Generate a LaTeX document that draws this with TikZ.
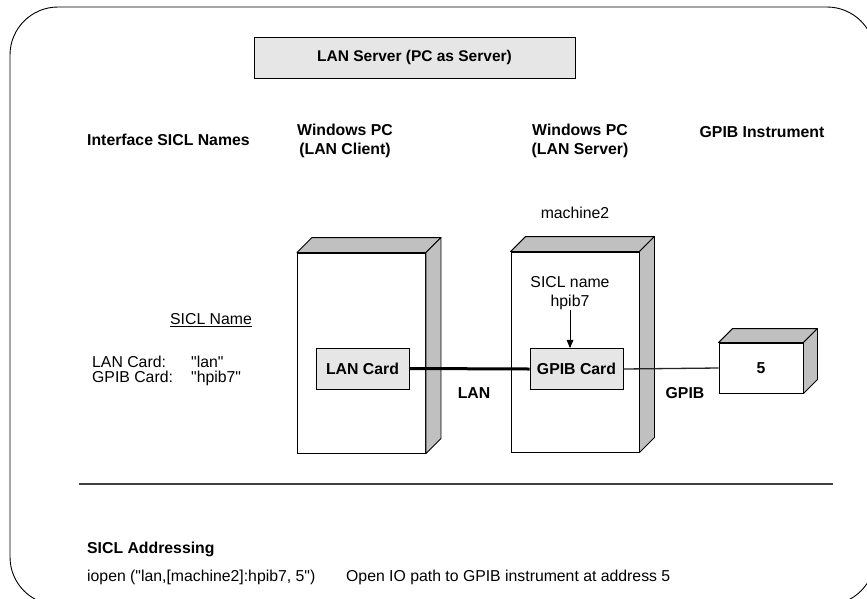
\documentclass[tikz,border=0pt]{standalone}
\usepackage{fontspec}
\setmainfont{Liberation Sans}
\usetikzlibrary{arrows,positioning}
\definecolor{sidegray}{RGB}{192,192,192}
\definecolor{cardgray}{RGB}{230,230,230}
\newcommand{\qt}{\textquotedbl}
\tikzstyle{txt}=[inner sep=0pt, align=center, font={\fontsize{15.8}{19}\selectfont}]
\tikzstyle{bold txt}=[txt, font={\fontsize{15.8}{19}\selectfont\bfseries}]
\tikzstyle{pc}=[draw, fill=white, line width=0.9pt, inner sep=0pt, minimum width=128pt, minimum height=200pt]
\tikzstyle{card}=[draw, fill=cardgray, line width=0.9pt, inner sep=0pt, minimum width=93pt, minimum height=41pt, font={\fontsize{15.8}{19}\selectfont\bfseries}]
\tikzstyle{side}=[draw, fill=sidegray, line width=0.9pt, line join=round]

\begin{document}
\begin{tikzpicture}[x=1pt, y=-1pt]
    \useasboundingbox (0,0) rectangle (867,598);
    % outer frame
    \draw[line width=0.9pt, rounded corners=48pt] (10,7) rectangle (875,605);

    % title and column headings
    \node[draw, fill=cardgray, line width=0.9pt, minimum width=321pt, minimum height=41pt, inner sep=0pt,
          font={\fontsize{15.5}{19}\selectfont\bfseries}] (title) at (414.5,57.5) {LAN Server (PC as Server)};
    \node[bold txt, anchor=west] (ifnames) at (87,140) {Interface SICL Names};
    \node[bold txt] (clienthdr) at (345,141) {Windows PC\\(LAN Client)};
    \node[bold txt] (serverhdr) at (580,141) {Windows PC\\(LAN Server)};
    \node[bold txt] (instrhdr) at (762,132) {GPIB Instrument};
    \node[txt] (machine) at (575,213) {machine2};

    % the two PCs and the instrument
    \node[pc] (client) at (361.5,353) {};
    \node[pc] (server) at (575,352) {};
    \node[pc, minimum width=84pt, minimum height=50pt, font={\fontsize{15.8}{19}\selectfont\bfseries}] (instr) at (761,368) {5};

    \foreach \n/\d in {client/15, server/15, instr/14}{
        \path[side] (\n.north west) -- ++(\d,-\d) -- ([xshift=\d pt, yshift=\d pt]\n.north east) -- (\n.north east) -- cycle;
        \path[side] (\n.north east) -- ++(\d,-\d) -- ([xshift=\d pt, yshift=\d pt]\n.south east) -- (\n.south east) -- cycle;
    }

    % interface cards
    \node[card] (lancard) at (362.5,368.5) {LAN Card};
    \node[card] (gpibcard) at (576.5,369) {GPIB Card};
    \node[txt] (siclhp) at (570,293) {SICL name\\hpib7};

    % connections
    \draw[line width=3pt] (lancard.east) -- (gpibcard.west);
    \draw[line width=1.3pt, black!85] (gpibcard.east) -- (instr.west);
    \draw[-triangle 45, line width=0.9pt] (siclhp.south) -- (siclhp.south |- gpibcard.north);
    \node[bold txt] (lanlbl) at (474,393) {LAN};
    \node[bold txt] (gpiblbl) at (685,393) {GPIB};

    % names on the left
    \node[txt] (siclname) at (211,320) {\underline{SICL Name}};
    \node[txt, anchor=west] (lanname) at (92,362) {\makebox[99pt][l]{LAN Card:}\qt lan\qt};
    \node[txt, anchor=west] (gpibname) at (92,378) {\makebox[99pt][l]{GPIB Card:}\qt hpib7\qt};

    % addressing part
    \coordinate (sepl) at (79,484);
    \coordinate (sepr) at (833,484);
    \draw[line width=1.3pt, black!75] (sepl) -- (sepr);
    \node[bold txt, anchor=west] (addr) at (87,549) {SICL Addressing};
    \node[txt, anchor=west] (iopen) at (87,577) {iopen (\qt lan,[machine2]:hpib7, 5\qt)};
    \node[txt, anchor=west] (iodesc) at (346,577) {Open IO path to GPIB instrument at address 5};
\end{tikzpicture}
\end{document}
